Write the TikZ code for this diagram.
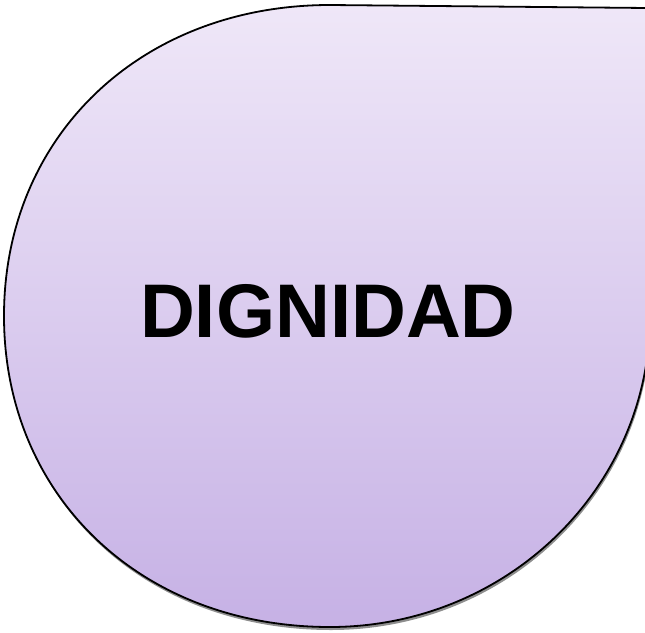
\documentclass[tikz,border=0pt]{standalone}
\usepackage{fontspec}
\setmainfont{Liberation Sans}
\definecolor{lilactop}{HTML}{EFE7F8}
\definecolor{lilacbottom}{HTML}{C6B1E5}
\definecolor{dropshadow}{HTML}{8E8E8E}

\begin{document}
\begin{tikzpicture}[x=1pt, y=-1pt,
  teardrop/.style={insert path={
    (4,316) .. controls (4,136) and (141,5) .. (330,5)
    -- (647,8) -- (650,316)
    .. controls (650,488) and (507,627) .. (330,627)
    .. controls (141,627) and (4,496) .. (4,316) -- cycle}},
  word/.style={inner sep=0pt, font=\fontsize{76}{80}\selectfont\bfseries}]
  \useasboundingbox (0,0) rectangle (645,632);
  \clip (0,0) rectangle (645,632);

  % grey copy a little lower gives the drop shadow
  \path[fill=dropshadow, shift={(1,3)}, teardrop];
  \path[draw=black, line width=1.8pt, top color=lilactop,
    bottom color=lilacbottom, teardrop];

  \node[word] (title) at (328,311.5) {DIGNIDAD};
\end{tikzpicture}
\end{document}
